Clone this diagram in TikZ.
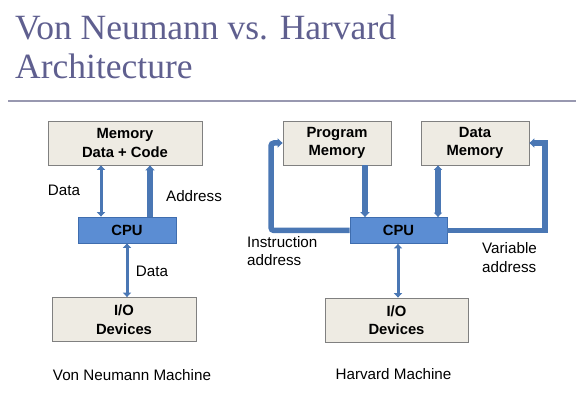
\documentclass[tikz,border=0pt]{standalone}
\usepackage{fontspec}
\setmainfont{Liberation Sans}
\newfontfamily\titlefont{Liberation Serif}
\usetikzlibrary{arrows.meta}
\definecolor{titlecol}{HTML}{5F5F8F}
\definecolor{rulecol}{HTML}{9898B0}
\definecolor{boxfill}{HTML}{EEEBE3}
\definecolor{boxline}{HTML}{808080}
\definecolor{cpufill}{HTML}{5B8DD3}
\definecolor{cpuline}{HTML}{3F6DAE}
\definecolor{buscol}{HTML}{4A77B4}
\tikzset{unit/.style={draw=boxline, fill=boxfill, line width=0.8pt, align=center, inner sep=0pt,
    font=\fontsize{14.8}{18.5}\selectfont\bfseries, minimum width=#1, minimum height=44pt},
%default width of the grey boxes
unit/.default={144pt},
cpu/.style={draw=cpuline, fill=cpufill, line width=0.8pt, inner sep=0pt,
    font=\fontsize{14.8}{18}\selectfont\bfseries, minimum width=98pt, minimum height=26pt},
lbl/.style={font=\fontsize{15.2}{18.5}\selectfont, align=left, inner sep=0pt},
bus/.style={buscol, line width=3pt},
widebus/.style={buscol, line width=5.5pt},
tip/.style={-{Triangle[length=5pt,width=9pt]}},
bothtip/.style={{Triangle[length=4.5pt,width=8pt]}-{Triangle[length=4.5pt,width=8pt]}}}

\begin{document}
\begin{tikzpicture}[x=1pt,y=-1pt]

    \useasboundingbox (0,0) rectangle (582,401);

    \node[font=\titlefont\fontsize{35.5}{39}\selectfont, text=titlecol, anchor=base west, inner sep=0pt] (t1) at (15,40) {Von Neumann vs. Harvard};
    \node[font=\titlefont\fontsize{35.5}{39}\selectfont, text=titlecol, anchor=base west, inner sep=0pt] (t2) at (15,79) {Architecture};
    \draw[rulecol, line width=2.5pt] (8,101) -- (576,101);

    % von Neumann
    \node[unit=154pt] (mem) at (125,143) {Memory\\Data + Code};
    \node[cpu] (cpuL) at (127,230) {CPU};
    \node[unit] (ioL) at (124,319.5) {I/O\\Devices};

    \coordinate (xd) at (101,0);
    \coordinate (xa) at (150,0);
    \coordinate (xio) at (127,0);

    \draw[bus,bothtip] (xd |- mem.south) -- (xd |- cpuL.north);
    \draw[widebus,tip] (xa |- cpuL.north) -- (xa |- mem.south);
    \draw[bus,bothtip] (xio |- cpuL.south) -- (xio |- ioL.north);

    \node[lbl] (ld) at (64,190) {Data};
    \node[lbl] (la) at (194,196) {Address};
    \node[lbl] (lio) at (152,271) {Data};
    \node[lbl] (capL) at (132,375) {Von Neumann Machine};

    % Harvard
    \node[unit=108pt] (pm) at (337,143) {Program\\Memory};
    \node[unit=108pt] (dm) at (475,143) {Data\\Memory};
    \node[cpu, minimum width=97pt] (cpuR) at (398.5,230.5) {CPU};
    \node[unit=143pt] (ioR) at (396.5,320) {I/O\\Devices};

    \coordinate (xp) at (365,0);
    \coordinate (xm) at (438,0);
    \coordinate (xr) at (398,0);
    \coordinate (il) at (271,230.5);
    \coordinate (vr) at (545,230.5);

    \draw[widebus,tip] (xp |- pm.south) -- (xp |- cpuR.north);
    \draw[widebus,bothtip] (xm |- dm.south) -- (xm |- cpuR.north);
    \draw[bus,bothtip] (xr |- cpuR.south) -- (xr |- ioR.north);
    \draw[widebus,tip,rounded corners=3pt] (cpuR.west) -- (il) |- (pm.west);
    \draw[widebus,tip] (cpuR.east) -- (vr) |- (dm.east);

    \node[lbl, anchor=west] (li) at (247,251) {Instruction\\address};
    \node[lbl, anchor=west] (lv) at (482,257.5) {Variable\\address};
    \node[lbl] (capR) at (393.5,374) {Harvard Machine};

\end{tikzpicture}
\end{document}
